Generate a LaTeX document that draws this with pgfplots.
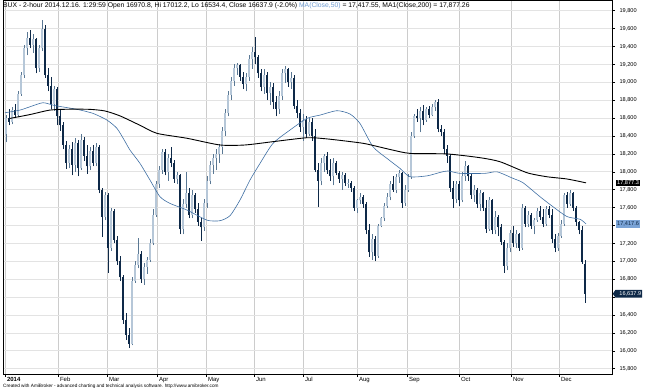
\documentclass[border=0pt]{standalone}
\usepackage{pgfplots}
\pgfplotsset{compat=1.18}
\usepackage{pgfplotstable}
\usepackage{fontspec}
\setmainfont{Liberation Sans}
\usetikzlibrary{shapes.symbols}
\definecolor{upfill}{HTML}{B6C7D8}
\definecolor{upedge}{HTML}{5A7894}
\definecolor{dncol}{HTML}{0E2948}
\definecolor{maone}{HTML}{3F6FA3}
\definecolor{gridv}{HTML}{CCCCCC}
\definecolor{gridh}{HTML}{E3E3E3}
\definecolor{titleblue}{HTML}{6E9BD1}
\definecolor{lblblue}{HTML}{7AA3D6}

\pgfplotstableread{
x o h l c
6 18420 18640 18330 18600
9 18600 18700 18520 18560
12 18560 18720 18530 18690
15 18690 18760 18600 18640
18 18640 18900 18610 18870
21 18870 19120 18850 19080
24 19080 19420 19050 19380
27 19380 19560 19300 19500
30 19500 19580 19380 19420
33 19420 19540 19330 19480
36 19480 19500 19100 19160
39 19160 19420 19120 19380
42 19380 19700 19350 19600
45 19600 19640 19050 19080
48 19080 19160 18900 18960
51 18960 19060 18700 18760
54 18760 18960 18680 18920
57 18920 18950 18520 18620
60 18620 18700 18460 18520
63 18520 18560 18250 18300
66 18300 18340 18030 18100
69 18100 18300 18040 18250
72 18250 18330 17960 18080
75 18080 18380 18000 18320
78 18320 18360 17950 18040
81 18040 18420 18020 18360
84 18360 18390 18120 18180
87 18180 18300 17980 18060
90 18060 18280 18020 18230
93 18230 18300 18060 18100
96 18100 18320 18060 18280
99 18280 18300 17760 17800
102 17800 17820 17270 17500
105 17500 17780 17460 17740
108 17740 17760 16870 17150
111 17150 17600 17120 17560
114 17560 17580 17200 17240
117 17240 17280 16960 17000
120 17000 17060 16780 16820
123 16820 16850 16300 16350
126 16350 16420 16120 16180
129 16180 16250 16030 16080
132 16080 16820 16060 16780
135 16780 17000 16760 16960
138 16960 17260 16920 17080
141 17080 17120 16760 16800
144 16800 16980 16740 16940
147 16940 17050 16860 17020
150 17020 17250 16990 17200
153 17200 17580 17180 17520
156 17520 17900 17500 17860
159 17860 18060 17820 18020
162 18020 18260 17980 18220
165 18220 18250 17960 18000
168 18000 18200 17900 18160
171 18160 18280 18050 18100
174 18100 18130 17880 17920
177 17920 18000 17860 17960
180 17960 17980 17300 17360
183 17360 17700 17300 17640
186 17640 18000 17600 17760
189 17760 17820 17480 17520
192 17520 17800 17480 17740
195 17740 17760 17540 17580
198 17580 17650 17400 17440
201 17440 17480 17230 17380
204 17380 17700 17340 17650
207 17650 17950 17600 17900
210 17900 18120 17860 18080
213 18080 18200 17980 18150
216 18150 18260 18020 18200
219 18200 18310 18100 18280
222 18280 18500 18200 18460
225 18460 18700 18400 18660
228 18660 18900 18620 18860
231 18860 19060 18800 19020
234 19020 19200 18960 19160
237 19160 19220 19080 19190
240 19190 19210 19020 19060
243 19060 19120 18920 18980
246 18980 19100 18900 19060
249 19060 19300 19020 19260
252 19260 19400 19150 19340
255 19340 19510 19200 19280
258 19280 19310 19050 19100
261 19100 19150 18900 18950
264 18950 19150 18870 19080
267 19080 19120 18800 18880
270 18880 19000 18750 18950
273 18950 18990 18700 18780
276 18780 18850 18620 18700
279 18700 18900 18650 18850
282 18850 19150 18800 19100
285 19100 19180 18990 19150
288 19150 19160 18950 19000
291 19000 19120 18930 19050
294 19050 19080 18700 18740
297 18740 18800 18600 18660
300 18660 18700 18450 18500
303 18500 18650 18350 18580
306 18580 18620 18380 18420
309 18420 18600 18400 18560
312 18560 18600 18350 18400
315 18400 18480 18000 18020
318 18020 18100 17610 17900
321 17900 18150 17850 18100
324 18100 18200 18000 18180
327 18180 18220 17980 18020
330 18020 18140 17900 17950
333 17950 18150 17850 18100
336 18100 18120 17960 17990
339 17990 18010 17880 17920
342 17920 18000 17800 17960
345 17960 17990 17840 17870
348 17870 17920 17820 17880
351 17880 17900 17780 17820
354 17820 17840 17560 17600
357 17600 17700 17540 17680
360 17680 17760 17640 17720
363 17720 17740 17600 17640
366 17640 17660 17300 17350
369 17350 17420 17050 17100
372 17100 17300 17020 17250
375 17250 17280 17000 17060
378 17060 17420 17040 17400
381 17400 17500 17380 17480
384 17480 17650 17450 17620
387 17620 17760 17600 17720
390 17720 17900 17680 17860
393 17860 17950 17780 17800
396 17800 17980 17760 17940
399 17940 18020 17880 17990
402 17990 18000 17600 17650
405 17650 17850 17620 17800
408 17800 17980 17780 17940
411 17940 18450 17920 18400
414 18400 18650 18380 18620
417 18620 18700 18560 18600
420 18600 18720 18440 18680
423 18680 18750 18520 18580
426 18580 18720 18560 18700
429 18700 18740 18600 18640
432 18640 18760 18620 18720
435 18720 18800 18680 18780
438 18780 18810 18440 18480
441 18480 18520 18400 18450
444 18450 18480 18200 18260
447 18260 18300 18100 18180
450 18180 18200 17780 17820
453 17820 17900 17600 17700
456 17700 17900 17650 17860
459 17860 17900 17620 17680
462 17680 18000 17660 17950
465 17950 18120 17900 18060
468 18060 18080 17900 17950
471 17950 17980 17700 17740
474 17740 17850 17660 17800
477 17800 17820 17600 17640
480 17640 17800 17560 17760
483 17760 17780 17560 17600
486 17600 17680 17320 17360
489 17360 17720 17340 17680
492 17680 17700 17300 17350
495 17350 17560 17300 17500
498 17500 17520 17280 17380
501 17380 17420 17180 17220
504 17220 17240 16870 16950
507 16950 17200 16900 17150
510 17150 17350 17100 17320
513 17320 17400 17160 17200
516 17200 17350 17150 17300
519 17300 17320 17120 17150
522 17150 17640 17130 17600
525 17600 17620 17380 17420
528 17420 17560 17380 17520
531 17520 17540 17360 17400
534 17400 17480 17300 17460
537 17460 17600 17440 17560
540 17560 17620 17460 17500
543 17500 17580 17380 17420
546 17420 17620 17400 17580
549 17580 17620 17480 17520
552 17520 17580 17200 17250
555 17250 17300 17100 17150
558 17150 17320 17120 17280
561 17280 17460 17260 17420
564 17420 17760 17400 17740
567 17740 17780 17600 17640
570 17640 17800 17620 17760
573 17760 17780 17560 17600
576 17600 17620 17400 17440
579 17440 17450 17300 17350
582 17350 17390 16970 16990
585 16970.8 17012.2 16534.4 16637.9
}\candles

\pgfplotsset{candle/.style={draw=none, mark=none, forget plot,
  error bars/.cd, y dir=plus, y explicit, error mark=none}}

\begin{document}
\begin{tikzpicture}[x=1pt,y=1pt]
\path[use as bounding box] (0,0) rectangle (645,-390);
\begin{axis}[
  at={(3.5pt,0pt)}, anchor=north west,
  scale only axis, width=608.5pt, height=374pt,
  xmin=3.5, xmax=612, ymin=15741, ymax=19920,
  clip=false,
  axis line style={black, line width=0.6pt},
  xtick={5,58,107,157,206,254,303,357,407,459,511,559},
  xticklabels={\textbf{2014},Feb,Mar,Apr,May,Jun,Jul,Aug,Sep,Oct,Nov,Dec},
  ytick={15800,16000,16200,16400,16600,16800,17000,17200,17400,17600,17800,18000,18200,18400,18600,18800,19000,19200,19400,19600,19800},
  yticklabels={{15,800},{16,000},{16,200},{16,400},{},{16,800},{17,000},{17,200},{},{17,600},{17,800},{18,000},{18,200},{18,400},{18,600},{18,800},{19,000},{19,200},{19,400},{19,600},{19,800}},
  tick align=outside, major tick length=3pt,
  xtick pos=bottom, ytick pos=right, yticklabel pos=right,
  tick style={black, line width=0.5pt},
  xmajorgrids, ymajorgrids,
  x grid style={gridv, line width=0.7pt},
  y grid style={gridh, line width=0.7pt},
  xticklabel style={font=\fontsize{6}{7}\selectfont, anchor=north west, xshift=-1.5pt, yshift=3pt},
  yticklabel style={font=\fontsize{5.6}{6.5}\selectfont, anchor=west, xshift=1pt},
]
% up candles
\addplot[candle, error bar style={draw=upedge, line width=0.5pt}]
  table[x=x, y expr={\thisrow{c}>=\thisrow{o} ? \thisrow{l} : nan}, y error plus expr={\thisrow{h}-\thisrow{l}}] {\candles};
\addplot[candle, error bar style={draw=upedge, line width=2.5pt}]
  table[x=x, y expr={\thisrow{c}>=\thisrow{o} ? \thisrow{o} : nan}, y error plus expr={\thisrow{c}-\thisrow{o}}] {\candles};
\addplot[candle, error bar style={draw=upfill, line width=1.2pt}]
  table[x=x, y expr={\thisrow{c}>=\thisrow{o} ? \thisrow{o} : nan}, y error plus expr={\thisrow{c}-\thisrow{o}}] {\candles};
% down candles
\addplot[candle, error bar style={draw=dncol, line width=0.5pt}]
  table[x=x, y expr={\thisrow{c}<\thisrow{o} ? \thisrow{l} : nan}, y error plus expr={\thisrow{h}-\thisrow{l}}] {\candles};
\addplot[candle, error bar style={draw=dncol, line width=2.5pt}]
  table[x=x, y expr={\thisrow{c}<\thisrow{o} ? \thisrow{c} : nan}, y error plus expr={\thisrow{o}-\thisrow{c}}] {\candles};
% MA 50
\addplot[maone, line width=0.6pt, smooth, tension=0.4, mark=none] coordinates {
(5,18660) (20,18690) (30,18727) (43,18772) (55,18740) (77,18698) (93,18653) (107,18578)
(117,18485) (125,18340) (130,18243) (140,18094) (150,17908) (160,17722) (170,17647)
(187,17573) (207,17460) (220,17454) (230,17510) (240,17685) (250,17908) (260,18094)
(273,18318) (290,18467) (307,18597) (320,18634) (337,18683) (350,18646) (360,18540)
(373,18280) (387,18150) (400,18038) (410,17945) (427,17955) (440,17993) (448,18010)
(460,17983) (485,17983) (497,18000) (513,17927) (523,17878) (540,17722) (553,17610)
(567,17500) (580,17470) (586,17418)};
% MA 200
\addplot[black, line width=0.9pt, smooth, tension=0.4, mark=none] coordinates {
(10,18597) (30,18640) (50,18690) (70,18700) (90,18698) (105,18680) (120,18625) (140,18520)
(157,18430) (187,18375) (220,18300) (245,18300) (273,18337) (307,18381) (325,18370)
(345,18345) (365,18315) (390,18250) (410,18206) (447,18200) (480,18158) (500,18113)
(527,17990) (547,17945) (567,17920) (586,17877)};
% value labels on the right
\node[fill=black, text=white, anchor=west, inner xsep=1pt, inner ysep=0.8pt, font=\fontsize{5.6}{6}\selectfont] at (axis cs:612,17877.26) [xshift=4pt] {17,877.3};
\node[fill=lblblue, text=dncol, anchor=west, inner xsep=1pt, inner ysep=1.5pt, font=\fontsize{5.6}{6}\selectfont] at (axis cs:612,17417.55) [xshift=4pt] {17,417.6};
\node[signal, signal to=west, signal pointer angle=110, fill=dncol, text=white, anchor=west, inner xsep=1pt, inner ysep=1.5pt, font=\fontsize{5.6}{6}\selectfont] at (axis cs:612,16637.9) [xshift=0.5pt] {\hspace{3pt}16,637.9};
\end{axis}
\node[anchor=north west, inner sep=0pt, font=\fontsize{6.8}{8}\selectfont] at (3,-2.5) {BUX - 2-hour 2014.12.16. 1:29:59 Open 16970.8, Hi 17012.2, Lo 16534.4, Close 16637.9 (-2.0\%) \textcolor{titleblue}{MA(Close,50)} = 17,417.55, MA1(Close,200) = 17,877.26};
\node[anchor=north west, inner sep=0pt, font=\fontsize{4.7}{5}\selectfont] at (3,-383.5) {Created with AmiBroker - advanced charting and technical analysis software. http://www.amibroker.com};
\end{tikzpicture}
\end{document}
